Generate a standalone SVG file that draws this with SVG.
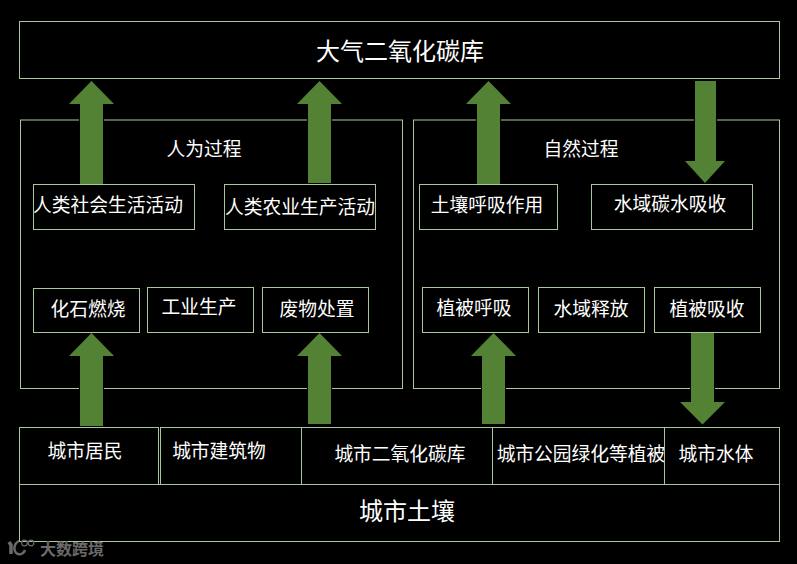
<svg xmlns="http://www.w3.org/2000/svg" width="797" height="564" viewBox="0 0 797 564">
<style>
.b{fill:none;stroke:#a9c79a;stroke-width:1}
.a{fill:#548235;stroke:#000;stroke-width:2;paint-order:stroke}
text{font-family:"Noto Sans CJK SC","Noto Sans",sans-serif;fill:#fff;text-anchor:middle;font-size:18.750px}
.l{font-size:24px}
.w{fill:#6a6a6a;font-size:16px;font-weight:700}
.m{fill:none;stroke:#6a6a6a}
</style>
<rect width="797" height="564" fill="#000"/>
<g id="panels">
<rect class="b" x="20.500" y="120" width="382" height="268.500"/>
<rect class="b" x="413.500" y="120" width="366" height="268.500"/>
</g>
<g id="connectors">
<path class="a" d="M91.500 81L114 104H103V184H80V104H69Z"/>
<path class="a" d="M319.500 81L342 104H331V183H308V104H297Z"/>
<path class="a" d="M488.500 81L511 104H500V184H477V104H466Z"/>
<path class="a" d="M695 81H716V161H725L705 183L685 161H695Z"/>
<path class="a" d="M91.500 333L114 356H103V426H80V356H69Z"/>
<path class="a" d="M319.500 333L342 356H331V424H308V356H297Z"/>
<path class="a" d="M493.500 333L516 356H505V424H482V356H471Z"/>
<path class="a" d="M691 333H714V402H725L702.500 424.500L680 402H691Z"/>
</g>
<g id="atmosphere"><rect class="b" x="19.500" y="21.500" width="760" height="57"/><text class="l" x="400" y="60">大气二氧化碳库</text></g>
<g id="human-title"><text x="204" y="156">人为过程</text></g>
<g id="natural-title"><text x="581" y="156">自然过程</text></g>
<g id="n1"><rect class="b" x="33.500" y="184.500" width="161" height="45"/><text x="108" y="212">人类社会生活活动</text></g>
<g id="n2"><rect class="b" x="224.500" y="184.500" width="151" height="45"/><text x="300" y="214">人类农业生产活动</text></g>
<g id="n3"><rect class="b" x="419.500" y="184.500" width="138" height="45"/><text x="487" y="212">土壤呼吸作用</text></g>
<g id="n4"><rect class="b" x="591.500" y="184.500" width="161" height="45"/><text x="670" y="211">水域碳水吸收</text></g>
<g id="n5"><rect class="b" x="33.500" y="288.500" width="106" height="44"/><text x="88" y="316">化石燃烧</text></g>
<g id="n6"><rect class="b" x="147.500" y="287.500" width="106" height="45"/><text x="199" y="314">工业生产</text></g>
<g id="n7"><rect class="b" x="262.500" y="287.500" width="106" height="45"/><text x="317" y="316">废物处置</text></g>
<g id="n8"><rect class="b" x="422.500" y="287.500" width="106" height="45"/><text x="474" y="315">植被呼吸</text></g>
<g id="n9"><rect class="b" x="538.500" y="287.500" width="106" height="45"/><text x="591" y="316">水域释放</text></g>
<g id="n10"><rect class="b" x="654.500" y="287.500" width="106" height="45"/><text x="707" y="316">植被吸收</text></g>
<g id="u1"><rect class="b" x="19.500" y="427.500" width="139" height="57"/><text x="85" y="458">城市居民</text></g>
<g id="u2"><rect class="b" x="160.500" y="427.500" width="141" height="57"/><text x="219" y="458">城市建筑物</text></g>
<g id="u3"><rect class="b" x="301.500" y="427.500" width="191" height="57"/><text x="400" y="461">城市二氧化碳库</text></g>
<g id="u4"><rect class="b" x="492.500" y="427.500" width="172" height="57"/><text x="581" y="461">城市公园绿化等植被</text></g>
<g id="u5"><rect class="b" x="664.500" y="427.500" width="115" height="57"/><text x="716" y="461">城市水体</text></g>
<g id="soil"><rect class="b" x="19.500" y="484.500" width="760" height="57"/><text class="l" x="407" y="520">城市土壤</text></g>
<g id="watermark">
<path class="m" stroke-width="3.500" d="M9 542L11 545V554"/>
<path class="m" stroke-width="2.500" d="M19 541C13 544 13 552 18 554 21 555 24 553 25 550"/>
<circle class="m" cx="24.500" cy="543" r="2.800" stroke-width="1.200"/><circle class="m" cx="31" cy="543" r="2.800" stroke-width="1.200"/>
<text class="w" x="72" y="555">大数跨境</text>
</g>
</svg>
